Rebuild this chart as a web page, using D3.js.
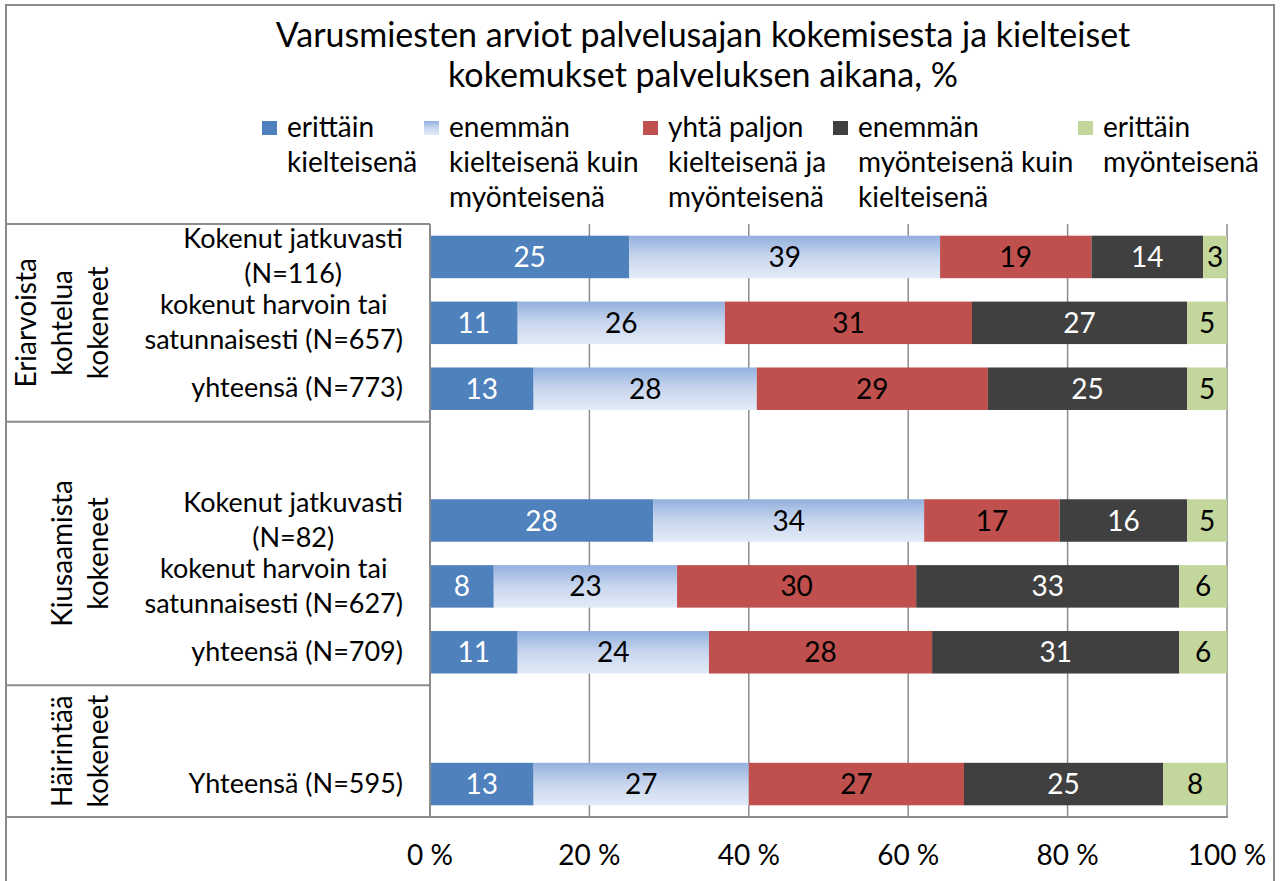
<!DOCTYPE html>
<html>
<head>
<meta charset="utf-8">
<script src="https://cdn.jsdelivr.net/npm/d3@7"></script>
<style>
  body { margin: 0; background: #fff; }
  text { font-family: Lato, 'Open Sans', sans-serif; fill: #000; }
</style>
</head>
<body>
<div class="chart"></div>
<script>
/** data */
const titleLines = ['Varusmiesten arviot palvelusajan kokemisesta ja kielteiset',
                    'kokemukset palveluksen aikana, %'];

const seriesNames = [
    ['erittäin', 'kielteisenä'],
    ['enemmän', 'kielteisenä kuin', 'myönteisenä'],
    ['yhtä paljon', 'kielteisenä ja', 'myönteisenä'],
    ['enemmän', 'myönteisenä kuin', 'kielteisenä'],
    ['erittäin', 'myönteisenä']];

const categories = [
    ['Kokenut jatkuvasti', '(N=116)'],
    ['kokenut harvoin tai', 'satunnaisesti (N=657)'],
    ['yhteensä (N=773)'],
    [],
    ['Kokenut jatkuvasti', '(N=82)'],
    ['kokenut harvoin tai', 'satunnaisesti (N=627)'],
    ['yhteensä (N=709)'],
    [],
    ['Yhteensä (N=595)']];

const groupNames = [['Eriarvoista', 'kohtelua', 'kokeneet'],
                    ['Kiusaamista', 'kokeneet'],
                    ['Häirintää', 'kokeneet']];
const groupFirst = [0, 3, 7];
const groupLast  = [2, 6, 8];

const erittainKielteisena   = [25, 11, 13, null, 28, 8, 11, null, 13];
const enemmanKielteisena    = [39, 26, 28, null, 34, 23, 24, null, 27];
const yhtaPaljon            = [19, 31, 29, null, 17, 30, 28, null, 27];
const enemmanMyonteisena    = [14, 27, 25, null, 16, 33, 31, null, 25];
const erittainMyonteisena   = [3, 5, 5, null, 5, 6, 6, null, 8];

const tickValues = [0, 20, 40, 60, 80, 100];

/** styles */
const colors = ['#4f81bd', 'url(#lightBlue)', '#c0504d', '#404040', '#c3d69b'];
const labelColors = ['#fff', '#000', '#000', '#fff', '#000'];
const legendX = [262, 424, 643, 833, 1078];
const fontSize = 28;

let width = 1281, height = 881;
let svg = d3.select('.chart').append('svg')
    .attr('width', width)
    .attr('height', height);

/** gradient for the light blue series */
let grad = svg.append('defs').append('linearGradient')
    .attr('id', 'lightBlue')
    .attr('x1', 0).attr('y1', 0).attr('x2', 0).attr('y2', 1);
grad.append('stop').attr('offset', '0%').attr('stop-color', '#93b0de');
grad.append('stop').attr('offset', '50%').attr('stop-color', '#c8d6ee');
grad.append('stop').attr('offset', '100%').attr('stop-color', '#e3ebf7');

/** outer chart border */
svg.append('rect')
    .attr('x', 6).attr('y', 5)
    .attr('width', 1268).attr('height', 920)
    .attr('fill', '#fff')
    .attr('stroke', '#8a8a8a')
    .attr('stroke-width', 2);

/** scales */
let x = d3.scaleLinear().domain([0, 100]).range([430, 1227]);
let y = d3.scaleBand()
    .domain(d3.range(categories.length))
    .range([224, 817])
    .paddingInner(0.355)
    .paddingOuter(0.1775);

/** title */
svg.append('g').selectAll('text')
    .data(titleLines)
    .enter().append('text')
    .attr('x', 703)
    .attr('y', (d, i) => 47 + i * 40)
    .attr('text-anchor', 'middle')
    .style('font-size', '34px')
    .text(d => d);

/** legend */
let legend = svg.append('g').selectAll('g')
    .data(seriesNames)
    .enter().append('g')
    .attr('transform', (d, i) => 'translate(' + legendX[i] + ',0)');
legend.append('rect')
    .attr('x', 0).attr('y', 121)
    .attr('width', 15).attr('height', 14)
    .attr('fill', (d, i) => colors[i]);
legend.selectAll('text')
    .data(d => d)
    .enter().append('text')
    .attr('x', 25)
    .attr('y', (d, i) => 137 + i * 35)
    .style('font-size', fontSize + 'px')
    .text(d => d);

/** gridlines */
svg.append('g').selectAll('line')
    .data(tickValues.slice(1))
    .enter().append('line')
    .attr('x1', d => x(d)).attr('x2', d => x(d))
    .attr('y1', y.range()[0]).attr('y2', y.range()[1])
    .attr('stroke', '#8c8c8c')
    .attr('stroke-width', 1.5);

/** stack the series */
let allSeries = [erittainKielteisena, enemmanKielteisena, yhtaPaljon,
                 enemmanMyonteisena, erittainMyonteisena];
let rows = d3.range(categories.length).map(i => {
    let row = { idx: i };
    allSeries.forEach((s, k) => row['s' + k] = s[i] == null ? 0 : s[i]);
    return row;
}).filter(r => allSeries[0][r.idx] != null);
let stacked = d3.stack().keys(allSeries.map((s, k) => 's' + k))(rows);

let layers = svg.append('g').selectAll('g')
    .data(stacked)
    .enter().append('g')
    .attr('fill', (d, k) => colors[k]);

layers.selectAll('rect')
    .data(d => d)
    .enter().append('rect')
    .attr('x', d => x(d[0]))
    .attr('width', d => x(d[1]) - x(d[0]))
    .attr('y', d => y(d.data.idx))
    .attr('height', y.bandwidth());

layers.selectAll('text')
    .data(d => d)
    .enter().append('text')
    .attr('x', d => (x(d[0]) + x(d[1])) / 2)
    .attr('y', d => y(d.data.idx) + y.bandwidth() / 2)
    .attr('dy', '0.36em')
    .attr('text-anchor', 'middle')
    .style('font-size', fontSize + 'px')
    .style('fill', function () {
        let k = stacked.indexOf(d3.select(this.parentNode).datum());
        return labelColors[k];
    })
    .text(d => d[1] - d[0]);

/** axes lines */
svg.append('line')
    .attr('x1', x(0)).attr('x2', x(0))
    .attr('y1', y.range()[0]).attr('y2', y.range()[1])
    .attr('stroke', '#8c8c8c').attr('stroke-width', 2);
svg.append('line')
    .attr('x1', 6).attr('x2', x(100) + 1)
    .attr('y1', y.range()[1]).attr('y2', y.range()[1])
    .attr('stroke', '#8c8c8c').attr('stroke-width', 2);

/** x tick labels */
svg.append('g').selectAll('text')
    .data(tickValues)
    .enter().append('text')
    .attr('x', d => x(d))
    .attr('y', 865)
    .attr('text-anchor', 'middle')
    .style('font-size', fontSize + 'px')
    .text(d => d + ' %');

/** category labels, lines centred on each other, block right aligned */
let catGroups = svg.append('g').selectAll('g')
    .data(categories)
    .enter().append('g');
catGroups.each(function (lines, i) {
    let g = d3.select(this);
    let n = lines.length;
    let cy = y(i) + y.bandwidth() / 2;
    let texts = g.selectAll('text')
        .data(lines)
        .enter().append('text')
        .attr('x', 0)
        .attr('y', (d, j) => cy + (j - (n - 1) / 2) * 35)
        .attr('dy', '0.32em')
        .attr('text-anchor', 'middle')
        .style('font-size', '27px')
        .text(d => d);
    let maxW = d3.max(texts.nodes(), t => t.getComputedTextLength()) || 0;
    g.attr('transform', 'translate(' + (403 - maxW / 2) + ',0)');
});

/** group boundaries and rotated group names */
let step = y.step(), y0 = y.range()[0];
let boundaries = [0].concat(groupLast.map(l => l + 1));
svg.append('g').selectAll('line')
    .data(boundaries.slice(0, -1))
    .enter().append('line')
    .attr('x1', 6).attr('x2', x(0))
    .attr('y1', d => y0 + d * step).attr('y2', d => y0 + d * step)
    .attr('stroke', '#8c8c8c').attr('stroke-width', 2);

groupNames.forEach((lines, gi) => {
    let cy = y0 + (groupFirst[gi] + groupLast[gi] + 1) / 2 * step;
    let n = lines.length;
    svg.append('g').selectAll('text')
        .data(lines)
        .enter().append('text')
        .attr('transform', (d, j) =>
            'translate(' + (98 - (n - 1 - j) * 36) + ',' + cy + ') rotate(-90)')
        .attr('dy', '0.36em')
        .attr('text-anchor', 'middle')
        .style('font-size', fontSize + 'px')
        .text(d => d);
});
</script>
</body>
</html>
